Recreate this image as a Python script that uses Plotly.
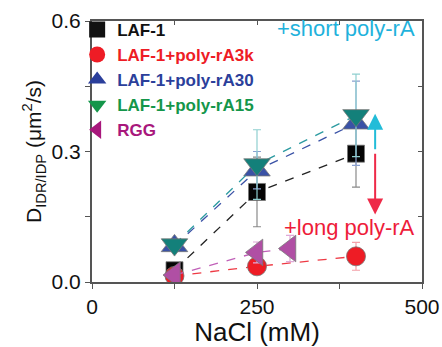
import plotly.graph_objects as go

# ---- data ----
x_laf = [125, 250, 400]
y_laf = [0.027, 0.207, 0.295]
e_laf = [0.0, 0.08, 0.077]

x_3k = [125, 250, 400]
y_3k = [0.014, 0.036, 0.059]
e_3k = [0.0, 0.015, 0.032]

x_30 = [125, 250, 400]
y_30 = [0.083, 0.257, 0.365]
e_30 = [0.0, 0.043, 0.097]

x_15 = [125, 250, 400]
y_15 = [0.086, 0.27, 0.383]
e_15 = [0.0, 0.08, 0.095]

x_rgg = [125, 250, 300]
y_rgg = [0.016, 0.068, 0.077]
e_rgg = [0.0, 0.024, 0.03]

legend_names = ["LAF-1", "LAF-1+poly-rA3k", "LAF-1+poly-rA30", "LAF-1+poly-rA15", "RGG"]
legend_colors = ["#111111", "#ee1c25", "#2b3f9b", "#14964a", "#a8177c"]
legend_symbols = ["square", "circle", "triangle-up", "triangle-down", "triangle-left"]

x_ticks = [0, 125, 250, 375, 500]
x_ticktext = ["0", "", "250", "", "500"]
y_ticks = [0, 0.15, 0.3, 0.45, 0.6]
y_ticktext = ["0.0", "", "0.3", "", "0.6"]

FONT = "Arial, Liberation Sans, sans-serif"

fig = go.Figure()

def series(x, y, e, color, line_color, symbol, size, err_color):
    fig.add_trace(go.Scatter(
        x=x, y=y, mode="lines+markers", showlegend=False,
        line=dict(color=line_color, width=1.3, dash="dash"),
        marker=dict(symbol=symbol, size=size, color=color,
                    line=dict(width=0.8, color="#777777")),
        error_y=dict(type="data", array=e, color=err_color, thickness=1.2, width=4),
    ))

series(x_laf, y_laf, e_laf, "#050505", "#222222", "square", 17, "#8a8a8a")
series(x_30, y_30, e_30, "#3a52a6", "#3a52a6", "triangle-up", 23, "#8aa0d0")
series(x_15, y_15, e_15, "#13807a", "#2a9aa0", "triangle-down", 23, "#8fcfd0")
series(x_3k, y_3k, e_3k, "#ee1c25", "#ee3a44", "circle", 19, "#f4a0a8")
series(x_rgg, y_rgg, e_rgg, "#b04fa4", "#c060b8", "triangle-left", 23, "#e0a8d8")

# legend entries
for n, c, s in zip(legend_names, legend_colors, legend_symbols):
    fig.add_trace(go.Scatter(
        x=[None], y=[None], mode="markers", name=f"<span style='color:{c}'><b>{n}</b></span>",
        marker=dict(symbol=s, size=16, color=c),
    ))

# top/right mirror axes with inside ticks
fig.add_trace(go.Scatter(x=[None], y=[None], xaxis="x2", yaxis="y2", showlegend=False))

axis_line = dict(showline=True, linecolor="#555555", linewidth=2, zeroline=False,
                 showgrid=False, automargin=False)

fig.update_layout(
    width=442, height=347,
    margin=dict(l=92, r=20, t=15, b=65),
    paper_bgcolor="white", plot_bgcolor="white",
    font=dict(family=FONT, color="#111111"),
    xaxis=dict(range=[0, 500], tickvals=x_ticks, ticktext=x_ticktext,
               ticks="outside", ticklen=5, tickwidth=1.2, tickcolor="#555555",
               tickfont=dict(size=21, family=FONT),
               title=dict(text="NaCl (mM)", font=dict(size=26, family=FONT), standoff=2),
               **axis_line),
    yaxis=dict(range=[0, 0.6], tickvals=y_ticks, ticktext=y_ticktext,
               ticks="outside", ticklen=5, tickwidth=1.2, tickcolor="#555555",
               tickfont=dict(size=21, family=FONT),
               title=dict(text="D<sub>IDR/IDP</sub> (μm<sup>2</sup>/s)",
                          font=dict(size=21, family=FONT), standoff=4),
               **axis_line),
    xaxis2=dict(range=[0, 500], overlaying="x", side="top", anchor="y",
                tickvals=x_ticks, ticktext=[""] * 5, ticks="inside", ticklen=4,
                tickcolor="#555555", **axis_line),
    yaxis2=dict(range=[0, 0.6], overlaying="y", side="right", anchor="x",
                tickvals=y_ticks, ticktext=[""] * 5, ticks="inside", ticklen=4,
                tickcolor="#555555", **axis_line),
    legend=dict(x=-0.045, y=1.035, xanchor="left", yanchor="top",
                bgcolor="rgba(0,0,0,0)", font=dict(size=17, family=FONT),
                itemwidth=30, tracegroupgap=0),
    annotations=[
        dict(x=429, y=0.387, ax=429, ay=0.302, xref="x", yref="y", axref="x", ayref="y",
             showarrow=True, arrowhead=2, arrowsize=1.6, arrowwidth=2, arrowcolor="#22bcd8", text=""),
        dict(x=429, y=0.155, ax=429, ay=0.298, xref="x", yref="y", axref="x", ayref="y",
             showarrow=True, arrowhead=2, arrowsize=1.6, arrowwidth=2, arrowcolor="#ee2a48", text=""),
        dict(x=0.985, y=0.97, xref="paper", yref="paper", xanchor="right", yanchor="middle",
             showarrow=False, text="+short poly-rA", font=dict(size=22, color="#1fb2dc", family=FONT)),
        dict(x=0.985, y=0.21, xref="paper", yref="paper", xanchor="right", yanchor="middle",
             showarrow=False, text="+long poly-rA", font=dict(size=22, color="#ee1c3a", family=FONT)),
    ],
)

fig.write_html("out.html")
